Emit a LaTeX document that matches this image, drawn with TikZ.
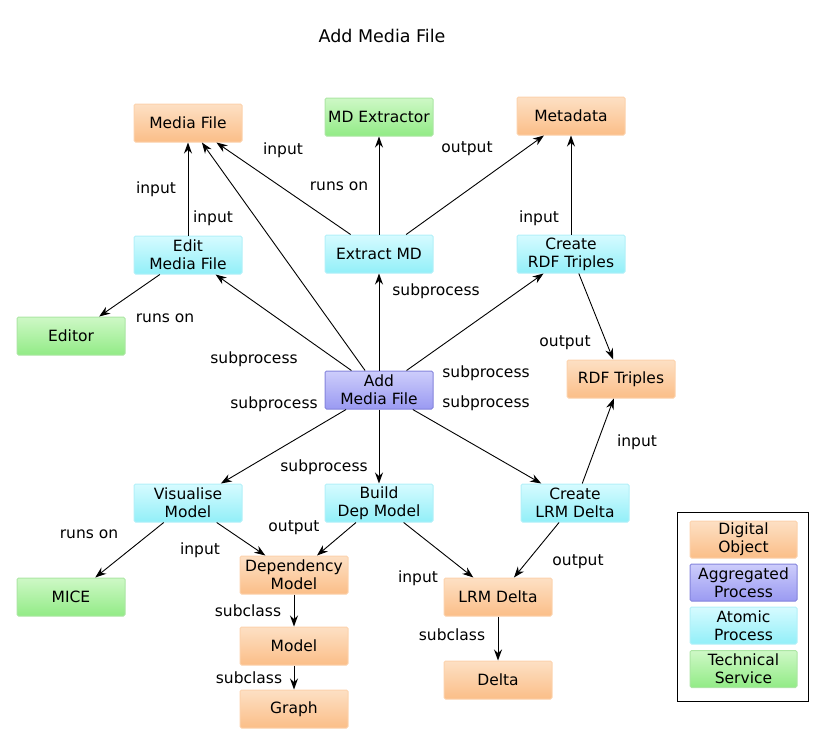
\documentclass[tikz,border=0pt]{standalone}
\usepackage{fontspec}
\setmainfont{DejaVu Sans}
\usepackage{tikz}
\usetikzlibrary{arrows.meta}

\definecolor{objtop}{HTML}{FDE0C4}
\definecolor{objbot}{HTML}{FBBE88}
\definecolor{objline}{HTML}{FCD2AC}
\definecolor{aggtop}{HTML}{CDCDFB}
\definecolor{aggbot}{HTML}{9A9AF2}
\definecolor{aggline}{HTML}{8484DC}
\definecolor{atmtop}{HTML}{D6FBFF}
\definecolor{atmbot}{HTML}{92EFF8}
\definecolor{atmline}{HTML}{B2F0F8}
\definecolor{srvtop}{HTML}{CEF8C6}
\definecolor{srvbot}{HTML}{92EB86}
\definecolor{srvline}{HTML}{ACE6A4}
\newcommand{\diafont}{\fontsize{15.5}{18}\selectfont}

\begin{document}
\begin{tikzpicture}[x=1pt, y=-1pt,
    box/.style={rectangle, rounded corners=1.5pt, line width=1pt, align=center,
      inner sep=1pt, minimum width=108pt, minimum height=38pt, font=\diafont},
    obj/.style={box, draw=objline, top color=objtop, bottom color=objbot},
    agg/.style={box, draw=aggline, top color=aggtop, bottom color=aggbot},
    atm/.style={box, draw=atmline, top color=atmtop, bottom color=atmbot},
    srv/.style={box, draw=srvline, top color=srvtop, bottom color=srvbot},
    rel/.style={-{Stealth[length=11pt, width=8pt]}, line width=0.9pt},
    lbl/.style={font=\diafont, inner sep=0pt}]
      \useasboundingbox (0, 0) rectangle (825, 744);
      \node (title) [font=\fontsize{17.5}{20}\selectfont] at (382, 36) {Add Media File};
      % digital objects
      \node[obj] (mediafile) at (188, 123) {Media File};
      \node[obj] (metadata) at (571, 116) {Metadata};
      \node[obj] (rdftriples) at (621, 379) {RDF Triples};
      \node[obj] (depmodel) at (294, 575) {Dependency\\Model};
      \node[obj] (model) at (294, 646) {Model};
      \node[obj] (graph) at (294, 709) {Graph};
      \node[obj] (lrmdelta) at (498, 597) {LRM Delta};
      \node[obj] (delta) at (498, 680) {Delta};
      % processes
      \node[agg] (addmf) at (379, 390) {Add\\Media File};
      \node[atm] (editmf) at (188, 255) {Edit\\Media File};
      \node[atm] (extractmd) at (379, 254) {Extract MD};
      \node[atm] (createrdf) at (571, 254) {Create\\RDF Triples};
      \node[atm] (visualise) at (188, 503) {Visualise\\Model};
      \node[atm] (builddep) at (379, 503) {Build\\Dep Model};
      \node[atm] (createlrm) at (575, 503) {Create\\LRM Delta};
      % services
      \node[srv] (mdextractor) at (379, 117) {MD Extractor};
      \node[srv] (editor) at (71, 336) {Editor};
      \node[srv] (mice) at (71, 597) {MICE};
      % connectors
      \draw[rel] (editmf) -- (mediafile);
      \draw[rel] (extractmd) -- (mediafile);
      \draw[rel] (addmf) -- (mediafile);
      \draw[rel] (extractmd) -- (mdextractor);
      \draw[rel] (extractmd) -- (metadata);
      \draw[rel] (createrdf) -- (metadata);
      \draw[rel] (createrdf) -- (rdftriples);
      \draw[rel] (editmf) -- (editor);
      \draw[rel] (addmf) -- (editmf);
      \draw[rel] (addmf) -- (extractmd);
      \draw[rel] (addmf) -- (createrdf);
      \draw[rel] (addmf) -- (visualise);
      \draw[rel] (addmf) -- (builddep);
      \draw[rel] (addmf) -- (createlrm);
      \draw[rel] (createlrm) -- (rdftriples);
      \draw[rel] (visualise) -- (mice);
      \draw[rel] (visualise) -- (depmodel);
      \draw[rel] (builddep) -- (depmodel);
      \draw[rel] (builddep) -- (lrmdelta);
      \draw[rel] (createlrm) -- (lrmdelta);
      \draw[rel] (depmodel) -- (model);
      \draw[rel] (model) -- (graph);
      \draw[rel] (lrmdelta) -- (delta);
      % connector labels
      \node[lbl] (l1) at (156, 189) {input};
      \node[lbl] (l2) at (213, 218) {input};
      \node[lbl] (l3) at (283, 150) {input};
      \node[lbl] (l4) at (339, 186) {runs on};
      \node[lbl] (l5) at (467, 149) {output};
      \node[lbl] (l6) at (539, 218) {input};
      \node[lbl] (l7) at (436, 291) {subprocess};
      \node[lbl] (l8) at (165, 318) {runs on};
      \node[lbl] (l9) at (254, 359) {subprocess};
      \node[lbl] (l10) at (274, 404) {subprocess};
      \node[lbl] (l11) at (486, 373) {subprocess};
      \node[lbl] (l12) at (486, 403) {subprocess};
      \node[lbl] (l13) at (565, 343) {output};
      \node[lbl] (l14) at (637, 442) {input};
      \node[lbl] (l15) at (324, 467) {subprocess};
      \node[lbl] (l16) at (89, 534) {runs on};
      \node[lbl] (l17) at (200, 550) {input};
      \node[lbl] (l18) at (294, 528) {output};
      \node[lbl] (l19) at (418, 578) {input};
      \node[lbl] (l20) at (578, 562) {output};
      \node[lbl] (l21) at (248, 611) {subclass};
      \node[lbl] (l22) at (249, 678) {subclass};
      \node[lbl] (l23) at (452, 635) {subclass};
      % legend
      \node (legend) [draw, line width=0.8pt, minimum width=131pt, minimum height=189pt] at (742.5, 606.5) {};
      \node[obj, minimum width=107pt, minimum height=37pt] (keyobj) at (743.5, 539.5) {Digital\\Object};
      \node[agg, minimum width=107pt, minimum height=37pt] (keyagg) at (743.5, 582.5) {Aggregated\\Process};
      \node[atm, minimum width=107pt, minimum height=37pt] (keyatm) at (743.5, 625.5) {Atomic\\Process};
      \node[srv, minimum width=107pt, minimum height=37pt] (keysrv) at (743.5, 669) {Technical\\Service};
    \end{tikzpicture}
\end{document}
